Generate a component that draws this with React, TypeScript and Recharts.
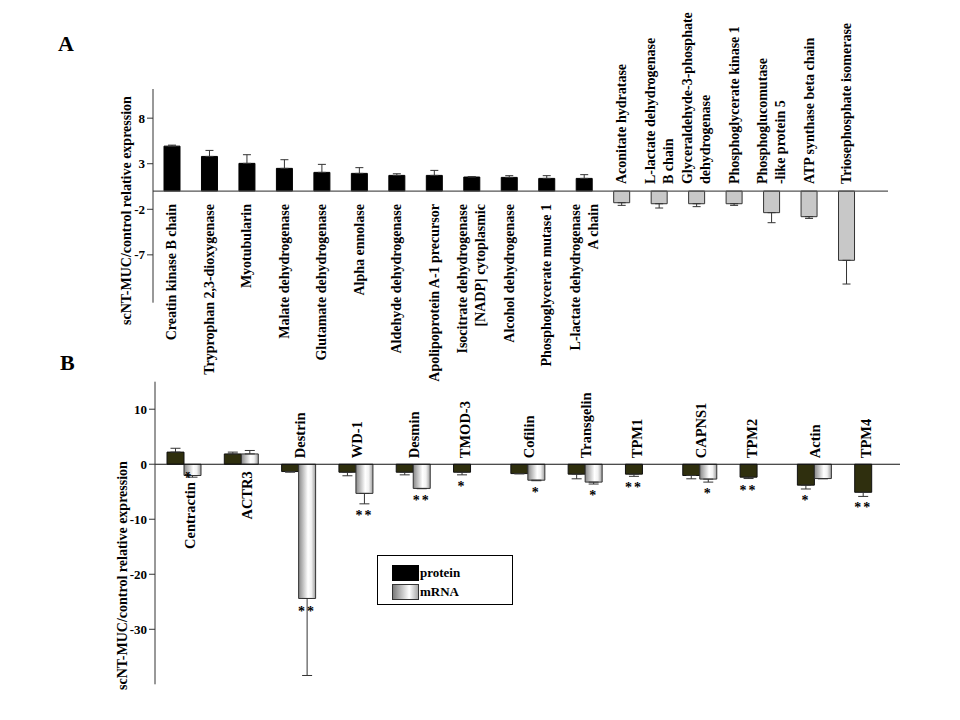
import { Bar, BarChart, Cell, ErrorBar, LabelList, Legend, ReferenceLine, XAxis, YAxis } from "recharts";

const FONT = "'Liberation Serif', 'Times New Roman', serif";

// Panel A: enzymes, scNT-MUC/control relative expression
const enzymeNames = [
  "Creatin kinase B chain",
  "Tryprophan 2,3-dioxygenase",
  "Myotubularin",
  "Malate dehydrogenase",
  "Glutamate dehydrogenase",
  "Alpha ennolase",
  "Aldehyde dehydrogenase",
  "Apolipoprotein A-1 precursor",
  "Isocitrate dehydrogenase\n[NADP] cytoplasmic",
  "Alcohol dehydrogenase",
  "Phosphoglycerate mutase 1",
  "L-lactate dehydrogenase\nA chain",
  "Aconitate hydratase",
  "L-lactate dehydrogenase\nB chain",
  "Glyceraldehyde-3-phosphate\ndehydrogenase",
  "Phosphoglycerate kinase 1",
  "Phosphoglucomutase\n-like protein 5",
  "ATP synthase beta chain",
  "Triosephosphate isomerase",
];
const enzymeValues = [4.93, 3.8, 3.04, 2.49, 2.05, 1.94, 1.72, 1.72, 1.54, 1.5, 1.39, 1.39, -1.28, -1.39, -1.39, -1.39, -2.37, -2.81, -7.6];
const enzymeErrors = [0.11, 0.66, 0.95, 0.95, 0.88, 0.63, 0.18, 0.55, 0.04, 0.19, 0.3, 0.41, 0.29, 0.47, 0.32, 0.18, 1.1, 0.19, 2.6];
const enzymeTicks = [-7, -2, 3, 8];

// Panel B: cytoskeleton proteins, protein vs mRNA
const markerNames = ["Centractin *", "ACTR3", "Destrin", "WD-1", "Desmin", "TMOD-3", "Cofilin", "Transgelin", "TPM1", "CAPNS1", "TPM2", "Actin", "TPM4"];
const proteinValues = [2.2, 1.87, -1.33, -1.45, -1.45, -1.45, -1.7, -1.8, -1.8, -2.05, -2.35, -3.8, -5.1];
const proteinErrors = [0.7, 0.33, 0.12, 0.65, 0.48, 0.48, 0.05, 0.85, 0.4, 0.6, 0.25, 0.7, 0.75];
const mrnaValues = [-2.05, 1.87, -24.4, -5.3, -4.4, null, -2.9, -3.25, null, -2.7, null, -2.6, null];
const mrnaErrors = [0.3, 0.63, 14, 1.9, 0.05, null, 0.1, 0.35, null, 0.55, null, 0.05, null];
const proteinStars = ["", "", "", "", "", "*", "", "", "**", "", "**", "*", "**"];
const mrnaStars = ["", "", "**", "**", "**", "", "*", "*", "", "*", "", "", ""];
const markerTicks = [-30, -20, -10, 0, 10];

const oneSided = (v: number | null, e: number | null) => (v == null || e == null ? undefined : v >= 0 ? [0, e] : [e, 0]);

const enzymeRows = enzymeNames.map((name, i) => ({
  name,
  value: enzymeValues[i],
  err: oneSided(enzymeValues[i], enzymeErrors[i]),
}));

const markerRows = markerNames.map((name, i) => ({
  name,
  protein: proteinValues[i],
  proteinErr: oneSided(proteinValues[i], proteinErrors[i]),
  proteinSd: proteinErrors[i],
  proteinStar: proteinStars[i],
  mrna: mrnaValues[i],
  mrnaErr: oneSided(mrnaValues[i], mrnaErrors[i]),
  mrnaSd: mrnaErrors[i],
  mrnaStar: mrnaStars[i],
}));

const textStyle = { fontFamily: FONT, fontWeight: 700, fill: "#000" };

function rectOf(props: any) {
  const vb = props.viewBox ?? props;
  const x = Number(vb.x);
  const y = Number(vb.y);
  const w = Number(vb.width);
  const h = Number(vb.height);
  return { x, w, top: Math.min(y, y + h), bottom: Math.max(y, y + h), h: Math.abs(h) };
}

function EnzymeName(props: any) {
  const row = enzymeRows.find((r) => r.name === props.value);
  if (!row) return null;
  const { x, w, top, bottom } = rectOf(props);
  const below = row.value > 0;
  const y0 = below ? bottom + 13 : top - 7;
  const lines = row.name.split("\n");
  return (
    <g>
      {lines.map((line, i) => {
        const lx = x + w / 2 + (i - (lines.length - 1) / 2) * 18;
        return (
          <text key={i} x={lx} y={y0} transform={`rotate(-90 ${lx} ${y0})`} textAnchor={below ? "end" : "start"} dominantBaseline="central" fontSize={14} {...textStyle}>
            {line}
          </text>
        );
      })}
    </g>
  );
}

function MarkerName(props: any) {
  const row = markerRows.find((r) => r.name === props.value);
  if (!row) return null;
  const { x, w, top, bottom } = rectOf(props);
  const below = row.protein > 0;
  let cx = row.mrna == null ? x + w / 2 + 3 : x + w + 1;
  if (below) cx = x + w + 6;
  const y0 = below ? bottom + 7 : top - 6;
  return (
    <text x={cx} y={y0} transform={`rotate(-90 ${cx} ${y0})`} textAnchor={below ? "end" : "start"} dominantBaseline="central" fontSize={14.5} {...textStyle}>
      {row.name}
    </text>
  );
}

function starLabel(key: "protein" | "mrna") {
  return (props: any) => {
    const row: any = markerRows.find((r) => r.name === props.value);
    if (!row || !row[`${key}Star`] || row[key] == null) return null;
    const { x, w, bottom, h } = rectOf(props);
    const perUnit = h / Math.abs(row[key]);
    const errPx = (row[`${key}Sd`] ?? 0) * perUnit;
    const y = errPx > 40 ? bottom + 18 : bottom + errPx + 16;
    return (
      <text x={x + w / 2} y={y} textAnchor="middle" fontSize={14} letterSpacing={2} {...textStyle}>
        {row[`${key}Star`]}
      </text>
    );
  };
}

function axisTitle(x: number, y: number) {
  return () => (
    <text x={x} y={y} transform={`rotate(-90 ${x} ${y})`} textAnchor="start" dominantBaseline="central" fontSize={14} {...textStyle}>
      scNT-MUC/control relative expression
    </text>
  );
}

function MarkerLegend() {
  const swatch = { position: "absolute" as const, left: 14, width: 27, height: 16, boxSizing: "border-box" as const };
  const label = { position: "absolute" as const, left: 42, fontFamily: FONT, fontWeight: 700, fontSize: 13, lineHeight: "16px" };
  return (
    <div style={{ position: "relative", width: 136, height: 50, border: "1px solid #000", boxSizing: "border-box", background: "#fff" }}>
      <div style={{ ...swatch, top: 9, background: "#000" }} />
      <div style={{ ...label, top: 9 }}>protein</div>
      <div style={{ ...swatch, top: 28, background: "linear-gradient(to right, #7a7a7a, #ffffff 65%, #a8a8a8)", border: "1px solid #333" }} />
      <div style={{ ...label, top: 28 }}>mRNA</div>
    </div>
  );
}

const tick = { fontSize: 13, fontWeight: 700, fill: "#000", fontFamily: FONT };

export default function App() {
  return (
    <div style={{ position: "absolute", left: 0, top: 0, width: 960, height: 720, background: "#fff", fontFamily: FONT }}>
      <div style={{ position: "absolute", left: 58, top: 33, fontSize: 22, lineHeight: "22px", fontWeight: 700 }}>A</div>
      <div style={{ position: "absolute", left: 60, top: 352, fontSize: 22, lineHeight: "22px", fontWeight: 700 }}>B</div>

      <div style={{ position: "absolute", left: 0, top: 0 }}>
        <BarChart width={960} height={400} data={enzymeRows} margin={{ top: 89, right: 72, bottom: 97.3, left: 113 }} barSize={16}>
          <XAxis dataKey="name" hide padding={{ left: 0, right: 23 }} />
          <YAxis
            width={40}
            domain={[-12.25, 11.2]}
            ticks={enzymeTicks}
            tick={tick}
            tickSize={6}
            tickMargin={2}
            stroke="#333"
            allowDataOverflow
            label={{ content: axisTitle(126, 325) }}
          />
          <ReferenceLine y={0} stroke="#555" strokeWidth={1.2} />
          <Bar dataKey="value" isAnimationActive={false} stroke="#222" strokeWidth={1}>
            {enzymeRows.map((r) => (
              <Cell key={r.name} fill={r.value > 0 ? "#000" : "#c8c8c8"} stroke={r.value > 0 ? "#000" : "#333"} />
            ))}
            <ErrorBar dataKey="err" width={4} stroke="#333" strokeWidth={1} />
            <LabelList dataKey="name" content={EnzymeName} />
          </Bar>
        </BarChart>
      </div>

      <div style={{ position: "absolute", left: 0, top: 370 }}>
        <BarChart width={960} height={350} data={markerRows} margin={{ top: 11.7, right: 60, bottom: 35.7, left: 115 }} barSize={17} barGap={0}>
          <defs>
            <linearGradient id="mrnaGrad" x1="0" y1="0" x2="1" y2="0">
              <stop offset="0" stopColor="#888" />
              <stop offset="0.55" stopColor="#fff" />
              <stop offset="0.75" stopColor="#f2f2f2" />
              <stop offset="1" stopColor="#9c9c9c" />
            </linearGradient>
          </defs>
          <XAxis dataKey="name" hide />
          <YAxis
            width={40}
            domain={[-40, 15]}
            ticks={markerTicks}
            tick={tick}
            tickSize={6}
            tickMargin={2}
            stroke="#333"
            allowDataOverflow
            label={{ content: axisTitle(122, 320) }}
          />
          <ReferenceLine y={0} stroke="#111" strokeWidth={1.2} />
          <Legend
            content={MarkerLegend}
            layout="horizontal"
            verticalAlign="middle"
            align="center"
            wrapperStyle={{ left: 377, top: 185, width: 136, height: 50 }}
          />
          <Bar dataKey="protein" name="protein" isAnimationActive={false} fill="#2f2f0e" stroke="#111" strokeWidth={1}>
            <ErrorBar dataKey="proteinErr" width={5} stroke="#333" strokeWidth={1} />
            <LabelList dataKey="name" content={MarkerName} />
            <LabelList dataKey="name" content={starLabel("protein")} />
          </Bar>
          <Bar dataKey="mrna" name="mRNA" isAnimationActive={false} fill="url(#mrnaGrad)" stroke="#333" strokeWidth={1}>
            <ErrorBar dataKey="mrnaErr" width={5} stroke="#333" strokeWidth={1} />
            <LabelList dataKey="name" content={starLabel("mrna")} />
          </Bar>
        </BarChart>
      </div>
    </div>
  );
}
